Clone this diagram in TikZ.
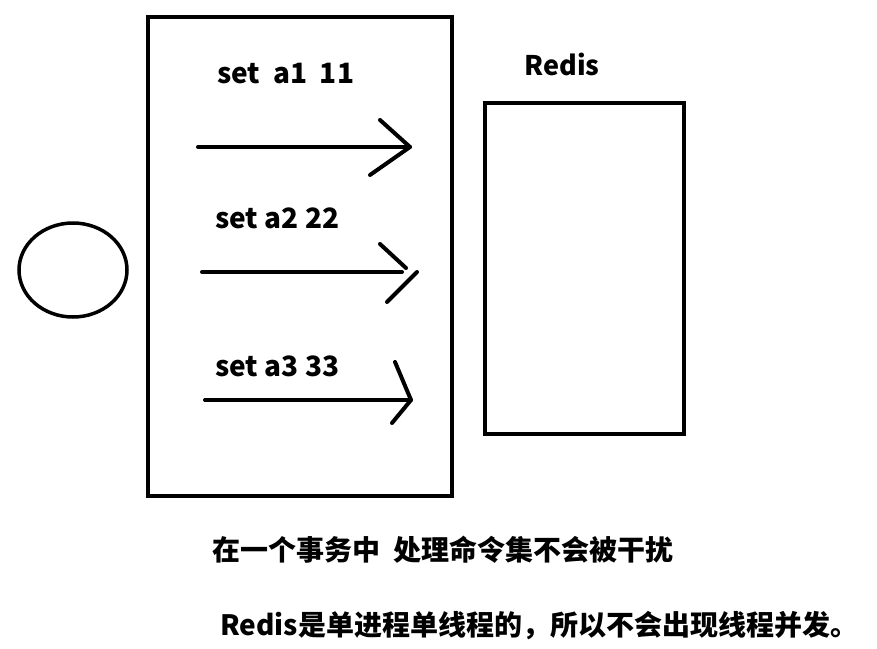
\documentclass[tikz,border=0pt]{standalone}
\usepackage{fontspec}
\newfontfamily\cjk{Noto Sans CJK SC}
\usetikzlibrary{shapes.geometric, positioning}
\tikzset{
    % boxes - thick black frames
    frame/.style={
        rectangle,
        draw=black,
        line width=4pt,
        inner sep=0pt
    },
    client/.style={
        ellipse,
        draw=black,
        line width=3.5pt,
        minimum width=108pt,
        minimum height=94pt
    },
    % texts
    cmd/.style={
        anchor=west,
        inner sep=0pt,
        font=\cjk\bfseries\fontsize{28}{30}\selectfont
    },
    note/.style={
        anchor=west,
        inner sep=0pt,
        font=\cjk\bfseries\fontsize{28}{30}\selectfont
    },
    % hand drawn arrows
    stroke/.style={
        line width=4pt,
        line cap=round,
        line join=round,
        draw=black
    }
}
\begin{document}
\begin{tikzpicture}[x=1pt, y=-1pt]
    \useasboundingbox (0,0) rectangle (877,648);

    \node[client] (cli) at (73,270) {};

    \node[frame, minimum width=304pt, minimum height=479pt] (tx) at (300,256.5) {};

    \node[frame, minimum width=199pt, minimum height=331pt] (redis) at (584.5,268.5) {};
    \node[cmd, anchor=center, font=\cjk\bfseries\fontsize{27}{30}\selectfont] (rlabel) at (562,64) {Redis};

    \node[cmd] (c1) at (217,74) {set\ \ a1\ \ 11};
    \node[cmd] (c2) at (215,218) {set a2 22};
    \node[cmd] (c3) at (215,366) {set a3 33};

    % arrow 1
    \coordinate (s1) at (198,147);
    \coordinate (t1) at (410,147);
    \draw[stroke] (s1) -- (t1);
    \draw[stroke] (380,120) -- (t1) -- (370,175);

    % arrow 2
    \coordinate (s2) at (202,272);
    \coordinate (t2) at (402,272);
    \draw[stroke] (s2) -- (t2);
    \draw[stroke] (380,244) -- (406,268);
    \draw[stroke] (417,272) -- (387,302);

    % arrow 3
    \coordinate (s3) at (205,400);
    \coordinate (t3) at (411,400);
    \draw[stroke] (s3) -- (t3);
    \draw[stroke] (395,362) -- (t3) -- (392,423);

    \node[note] (n1) at (212,550) {在一个事务中\ \ 处理命令集不会被干扰};
    \node[note] (n2) at (220,626) {Redis是单进程单线程的，所以不会出现线程并发。};
\end{tikzpicture}
\end{document}
